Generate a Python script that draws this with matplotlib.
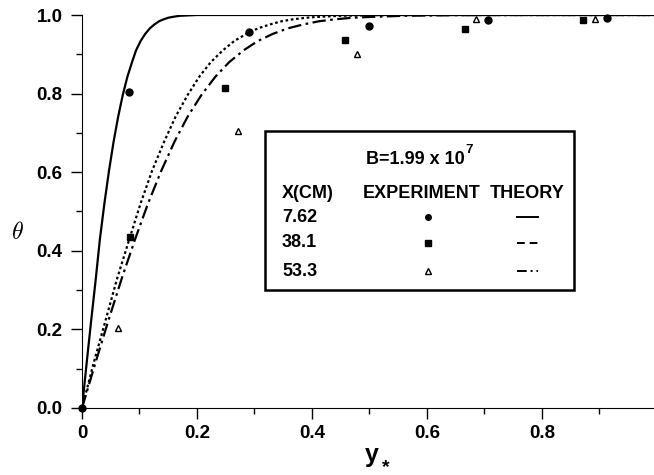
import matplotlib
matplotlib.use("Agg")
import matplotlib.pyplot as plt
from matplotlib.lines import Line2D
from matplotlib.patches import Rectangle
from matplotlib.ticker import MultipleLocator

plt.rcParams['font.family'] = ['Liberation Sans', 'DejaVu Sans']
plt.rcParams['mathtext.fontset'] = 'cm'

# experiment points
x_762 = [0.0, 0.082, 0.291, 0.499, 0.707, 0.914]
th_762 = [0.0, 0.805, 0.957, 0.973, 0.987, 0.992]
x_381 = [0.083, 0.249, 0.457, 0.666, 0.872]
th_381 = [0.435, 0.813, 0.936, 0.964, 0.987]
x_533 = [0.062, 0.271, 0.479, 0.686, 0.893]
th_533 = [0.203, 0.705, 0.900, 0.990, 0.990]

# theory curves
xs_762 = [0.0, 0.008, 0.016, 0.024, 0.031, 0.039, 0.047, 0.055, 0.063, 0.071, 0.079,
          0.087, 0.094, 0.102, 0.110, 0.118, 0.126, 0.134, 0.142, 0.150, 0.157, 0.17,
          0.185, 0.20, 0.25, 1.0]
ts_762 = [0.0, 0.113, 0.223, 0.329, 0.428, 0.521, 0.604, 0.678, 0.742, 0.797, 0.843,
          0.880, 0.910, 0.934, 0.952, 0.966, 0.976, 0.984, 0.989, 0.993, 0.995, 0.998,
          0.999, 1.0, 1.0, 1.0]

xs_381 = [0.0, 0.020, 0.041, 0.061, 0.082, 0.102, 0.122, 0.143, 0.163, 0.184, 0.204,
          0.224, 0.245, 0.265, 0.286, 0.306, 0.327, 0.347, 0.367, 0.39, 0.408, 0.449,
          0.51, 0.6, 1.0]
ts_381 = [0.0, 0.113, 0.223, 0.329, 0.428, 0.521, 0.604, 0.678, 0.742, 0.797, 0.843,
          0.880, 0.910, 0.934, 0.952, 0.966, 0.976, 0.984, 0.989, 0.993, 0.995, 0.998,
          0.9996, 1.0, 1.0]

xs_533 = [0.0, 0.023, 0.046, 0.069, 0.092, 0.115, 0.138, 0.161, 0.184, 0.208, 0.232,
          0.256, 0.281, 0.306, 0.332, 0.358, 0.385, 0.412, 0.44, 0.47, 0.50, 0.56,
          0.65, 0.75, 1.0]
ts_533 = [0.0, 0.113, 0.223, 0.329, 0.428, 0.521, 0.604, 0.678, 0.742, 0.797, 0.843,
          0.880, 0.910, 0.934, 0.952, 0.966, 0.976, 0.984, 0.989, 0.993, 0.995, 0.998,
          0.9996, 1.0, 1.0]

row_labels = ['7.62', '38.1', '53.3']
bold = dict(fontweight='bold', fontsize=13)

fig = plt.figure(figsize=(6.54, 4.75), dpi=100)
ax = fig.add_axes([82 / 654, 1 - 408 / 475, 572 / 654, 393 / 475])

ax.plot(xs_762, ts_762, color='black', lw=1.6, solid_capstyle='butt')
ax.plot(xs_381, ts_381, color='black', lw=1.6, linestyle=(0, (1.2, 1.2)))
ax.plot(xs_533, ts_533, color='black', lw=1.6, linestyle=(0, (6, 2, 1.2, 2)))

ax.plot(x_762, th_762, 'o', color='black', ms=5, clip_on=False)
ax.plot(x_381, th_381, 's', color='black', ms=5)
ax.plot(x_533, th_533, '^', mfc='white', mec='black', mew=1.0, ms=5)

ax.set_xlim(0, 0.995)
ax.set_ylim(0, 1.0)
ax.spines['top'].set_visible(False)
ax.spines['right'].set_visible(False)
ax.xaxis.set_minor_locator(MultipleLocator(0.1))
ax.yaxis.set_minor_locator(MultipleLocator(0.1))
ax.set_xticks([0, 0.2, 0.4, 0.6, 0.8])
ax.set_xticklabels(['0', '0.2', '0.4', '0.6', '0.8'])
ax.set_yticks([0, 0.2, 0.4, 0.6, 0.8, 1.0])
ax.set_yticklabels(['0.0', '0.2', '0.4', '0.6', '0.8', '1.0'])
ax.tick_params(which='major', direction='out', length=8, width=1, labelsize=13.5)
ax.tick_params(which='minor', direction='out', length=4, width=1)
ax.tick_params(axis='x', pad=4)
ax.tick_params(axis='y', pad=6)
for lab in ax.get_xticklabels() + ax.get_yticklabels():
    lab.set_fontweight('bold')

# axis labels
fig.text(17 / 654, 1 - 233 / 475, r'$\theta$', fontsize=17, ha='center', va='center')
fig.text(372 / 654, 1 - 455 / 475, 'y', fontsize=18, fontweight='bold', ha='center', va='center')
fig.text(386 / 654, 1 - 468 / 475, '*', fontsize=14, fontweight='bold', ha='center', va='center')

# legend box
def fx(px):
    return px / 654

def fy(py):
    return 1 - py / 475

fig.add_artist(Rectangle((fx(265), fy(290)), fx(574) - fx(265), fy(131) - fy(290),
                         transform=fig.transFigure, fill=True, facecolor='white',
                         edgecolor='black', lw=1.8, zorder=5))
fig.text(fx(415), fy(160), 'B=1.99 x 10', ha='center', va='center', zorder=6, **bold)
fig.text(fx(465), fy(150), '7', ha='left', va='center', fontsize=9.5, fontweight='bold', zorder=6)
fig.text(fx(282), fy(193), 'X(CM)', ha='left', va='center', zorder=6, **bold)
fig.text(fx(422), fy(193), 'EXPERIMENT', ha='center', va='center', zorder=6, **bold)
fig.text(fx(527), fy(193), 'THEORY', ha='center', va='center', zorder=6, **bold)

row_y = [217, 243, 271]
row_markers = [dict(marker='o', mfc='black'), dict(marker='s', mfc='black'),
               dict(marker='^', mfc='white')]
row_styles = ['-', (0, (4, 2.5)), (0, (5, 2, 1, 2))]
for lab, py, mk, ls in zip(row_labels, row_y, row_markers, row_styles):
    fig.text(fx(282), fy(py), lab, ha='left', va='center', zorder=6, **bold)
    fig.add_artist(Line2D([fx(428)], [fy(py)], transform=fig.transFigure, color='black',
                          mec='black', ms=4, linestyle='none', zorder=6, **mk))
    fig.add_artist(Line2D([fx(517), fx(538)], [fy(py), fy(py)], transform=fig.transFigure,
                          color='black', lw=1.4, linestyle=ls, zorder=6))

fig.savefig('out.png', dpi=100)
